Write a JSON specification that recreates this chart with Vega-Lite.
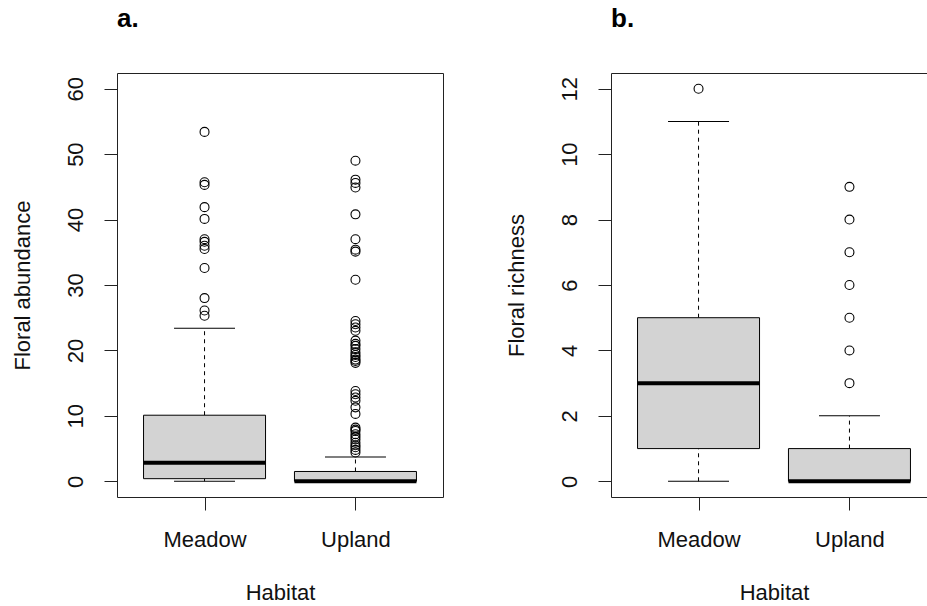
{
  "$schema": "https://vega.github.io/schema/vega-lite/v6.json",
  "padding": {"left": 10, "top": 5, "right": 0, "bottom": 0},
  "background": "white",
  "bounds": "flush",
  "spacing": 168,
  "datasets": {
    "abund_stats": [
      {"habitat": "Meadow", "lower": 0, "q1": 0.4, "median": 2.85, "q3": 10.1, "upper": 23.4},
      {"habitat": "Upland", "lower": 0, "q1": 0, "median": 0, "q3": 1.5, "upper": 3.7}
    ],
    "abund_out": [
      {"habitat": "Meadow", "value": 53.4}, {"habitat": "Meadow", "value": 45.7}, {"habitat": "Meadow", "value": 45.3},
      {"habitat": "Meadow", "value": 41.9}, {"habitat": "Meadow", "value": 40.1}, {"habitat": "Meadow", "value": 37.0},
      {"habitat": "Meadow", "value": 36.6}, {"habitat": "Meadow", "value": 36.0}, {"habitat": "Meadow", "value": 35.5},
      {"habitat": "Meadow", "value": 32.6}, {"habitat": "Meadow", "value": 28.0}, {"habitat": "Meadow", "value": 26.1},
      {"habitat": "Meadow", "value": 25.3},
      {"habitat": "Upland", "value": 49.0}, {"habitat": "Upland", "value": 46.1}, {"habitat": "Upland", "value": 45.6},
      {"habitat": "Upland", "value": 44.9}, {"habitat": "Upland", "value": 40.8}, {"habitat": "Upland", "value": 37.0},
      {"habitat": "Upland", "value": 35.4}, {"habitat": "Upland", "value": 35.1}, {"habitat": "Upland", "value": 30.8},
      {"habitat": "Upland", "value": 24.5}, {"habitat": "Upland", "value": 24.0}, {"habitat": "Upland", "value": 23.5},
      {"habitat": "Upland", "value": 23.0}, {"habitat": "Upland", "value": 21.5}, {"habitat": "Upland", "value": 21.0},
      {"habitat": "Upland", "value": 20.7}, {"habitat": "Upland", "value": 20.2}, {"habitat": "Upland", "value": 19.7},
      {"habitat": "Upland", "value": 19.3}, {"habitat": "Upland", "value": 19.0}, {"habitat": "Upland", "value": 18.6},
      {"habitat": "Upland", "value": 18.4}, {"habitat": "Upland", "value": 18.1}, {"habitat": "Upland", "value": 13.8},
      {"habitat": "Upland", "value": 13.3}, {"habitat": "Upland", "value": 12.8}, {"habitat": "Upland", "value": 12.3},
      {"habitat": "Upland", "value": 11.3}, {"habitat": "Upland", "value": 10.3}, {"habitat": "Upland", "value": 8.2},
      {"habitat": "Upland", "value": 7.9}, {"habitat": "Upland", "value": 7.7}, {"habitat": "Upland", "value": 7.2},
      {"habitat": "Upland", "value": 6.8}, {"habitat": "Upland", "value": 6.4}, {"habitat": "Upland", "value": 5.9},
      {"habitat": "Upland", "value": 5.5}, {"habitat": "Upland", "value": 5.2}, {"habitat": "Upland", "value": 4.8},
      {"habitat": "Upland", "value": 4.4}
    ],
    "rich_stats": [
      {"habitat": "Meadow", "lower": 0, "q1": 1, "median": 3, "q3": 5, "upper": 11},
      {"habitat": "Upland", "lower": 0, "q1": 0, "median": 0, "q3": 1, "upper": 2}
    ],
    "rich_out": [
      {"habitat": "Meadow", "value": 12},
      {"habitat": "Upland", "value": 3}, {"habitat": "Upland", "value": 4}, {"habitat": "Upland", "value": 5},
      {"habitat": "Upland", "value": 6}, {"habitat": "Upland", "value": 7}, {"habitat": "Upland", "value": 8},
      {"habitat": "Upland", "value": 9}
    ]
  },
  "hconcat": [
    {
      "width": 326,
      "height": 424,
      "title": {"text": "a.", "anchor": "start", "frame": "group", "fontSize": 26, "fontWeight": "bold", "baseline": "alphabetic", "offset": 20, "color": "black"},
      "encoding": {
        "x": {"field": "habitat", "type": "nominal", "title": "Habitat", "scale": {"type": "point", "padding": 0.58, "domain": ["Meadow", "Upland"]}}
      },
      "layer": [
        {"data": {"name": "abund_stats"}, "mark": {"type": "rule", "color": "black", "strokeDash": [4, 4], "strokeWidth": 1},
         "encoding": {"y": {"field": "lower", "type": "quantitative", "title": "Floral abundance", "scale": {"domain": [-2.4, 62.4], "nice": false, "zero": false}, "axis": {"values": [0, 10, 20, 30, 40, 50, 60]}}, "y2": {"field": "q1"}}},
        {"data": {"name": "abund_stats"}, "mark": {"type": "rule", "color": "black", "strokeDash": [4, 4], "strokeWidth": 1},
         "encoding": {"y": {"field": "q3", "type": "quantitative", "title": "Floral abundance"}, "y2": {"field": "upper"}}},
        {"data": {"name": "abund_stats"}, "mark": {"type": "tick", "color": "black", "size": 61, "thickness": 1, "opacity": 1},
         "encoding": {"y": {"field": "lower", "type": "quantitative", "title": "Floral abundance"}}},
        {"data": {"name": "abund_stats"}, "mark": {"type": "tick", "color": "black", "size": 61, "thickness": 1, "opacity": 1},
         "encoding": {"y": {"field": "upper", "type": "quantitative", "title": "Floral abundance"}}},
        {"data": {"name": "abund_stats"}, "mark": {"type": "bar", "fill": "#d3d3d3", "stroke": "black", "strokeWidth": 1, "width": 122, "opacity": 1},
         "encoding": {"y": {"field": "q1", "type": "quantitative", "title": "Floral abundance"}, "y2": {"field": "q3"}}},
        {"data": {"name": "abund_stats"}, "mark": {"type": "tick", "color": "black", "size": 122, "thickness": 4, "opacity": 1},
         "encoding": {"y": {"field": "median", "type": "quantitative", "title": "Floral abundance"}}},
        {"data": {"name": "abund_out"}, "mark": {"type": "point", "shape": "circle", "filled": false, "stroke": "black", "strokeWidth": 1.1, "size": 80, "opacity": 1},
         "encoding": {"y": {"field": "value", "type": "quantitative", "title": "Floral abundance"}}}
      ]
    },
    {
      "width": 326,
      "height": 424,
      "title": {"text": "b.", "anchor": "start", "frame": "group", "fontSize": 26, "fontWeight": "bold", "baseline": "alphabetic", "offset": 20, "color": "black"},
      "encoding": {
        "x": {"field": "habitat", "type": "nominal", "title": "Habitat", "scale": {"type": "point", "padding": 0.58, "domain": ["Meadow", "Upland"]}}
      },
      "layer": [
        {"data": {"name": "rich_stats"}, "mark": {"type": "rule", "color": "black", "strokeDash": [4, 4], "strokeWidth": 1},
         "encoding": {"y": {"field": "lower", "type": "quantitative", "title": "Floral richness", "scale": {"domain": [-0.48, 12.48], "nice": false, "zero": false}, "axis": {"values": [0, 2, 4, 6, 8, 10, 12]}}, "y2": {"field": "q1"}}},
        {"data": {"name": "rich_stats"}, "mark": {"type": "rule", "color": "black", "strokeDash": [4, 4], "strokeWidth": 1},
         "encoding": {"y": {"field": "q3", "type": "quantitative", "title": "Floral richness"}, "y2": {"field": "upper"}}},
        {"data": {"name": "rich_stats"}, "mark": {"type": "tick", "color": "black", "size": 61, "thickness": 1, "opacity": 1},
         "encoding": {"y": {"field": "lower", "type": "quantitative", "title": "Floral richness"}}},
        {"data": {"name": "rich_stats"}, "mark": {"type": "tick", "color": "black", "size": 61, "thickness": 1, "opacity": 1},
         "encoding": {"y": {"field": "upper", "type": "quantitative", "title": "Floral richness"}}},
        {"data": {"name": "rich_stats"}, "mark": {"type": "bar", "fill": "#d3d3d3", "stroke": "black", "strokeWidth": 1, "width": 122, "opacity": 1},
         "encoding": {"y": {"field": "q1", "type": "quantitative", "title": "Floral richness"}, "y2": {"field": "q3"}}},
        {"data": {"name": "rich_stats"}, "mark": {"type": "tick", "color": "black", "size": 122, "thickness": 4, "opacity": 1},
         "encoding": {"y": {"field": "median", "type": "quantitative", "title": "Floral richness"}}},
        {"data": {"name": "rich_out"}, "mark": {"type": "point", "shape": "circle", "filled": false, "stroke": "black", "strokeWidth": 1.1, "size": 80, "opacity": 1},
         "encoding": {"y": {"field": "value", "type": "quantitative", "title": "Floral richness"}}}
      ]
    }
  ],
  "config": {
    "font": "Liberation Sans",
    "view": {"stroke": "#222", "strokeWidth": 1},
    "axis": {"grid": false, "domain": false, "tickColor": "#222", "tickSize": 13, "tickWidth": 1, "labelFontSize": 22, "titleFontSize": 22, "titleFontWeight": "normal", "labelColor": "#111", "titleColor": "#111", "labelFlush": false, "labelOverlap": false},
    "axisY": {"labelAngle": -90, "labelAlign": "center", "labelBaseline": "bottom", "labelPadding": 17, "titleBaseline": "alphabetic", "titlePadding": 35},
    "axisX": {"labelAngle": 0, "labelBaseline": "alphabetic", "labelPadding": 36, "titleBaseline": "alphabetic", "titlePadding": 49}
  }
}
